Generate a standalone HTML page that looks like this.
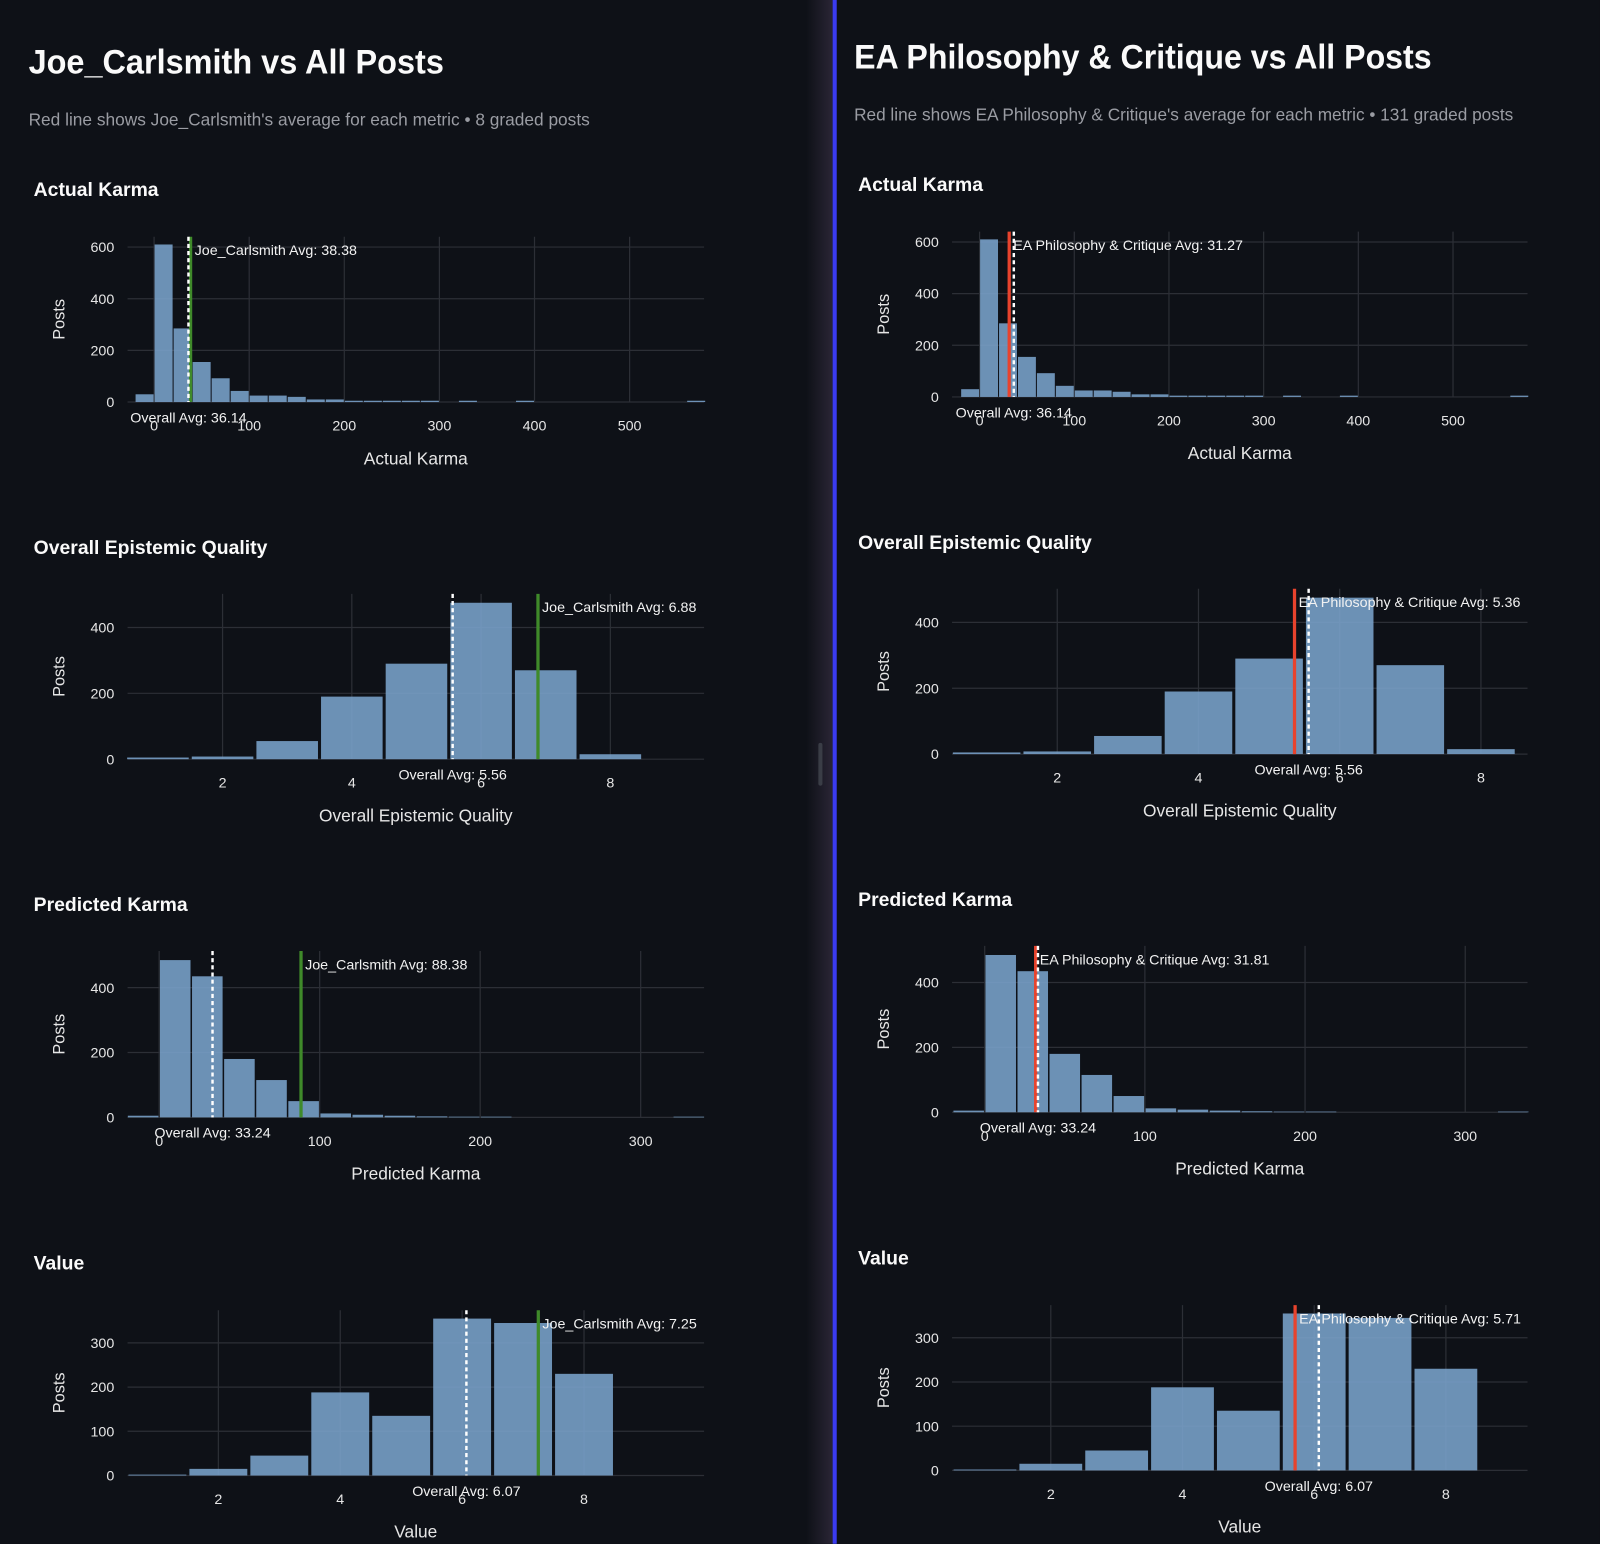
<!DOCTYPE html>
<html><head><meta charset="utf-8">
<style>
html,body{margin:0;padding:0;background:#0e1117;overflow:hidden;}
#wrap{width:1568px;height:1513px;transform:scale(1.0204);transform-origin:0 0;position:relative;}
svg text{font-family:"Liberation Sans",sans-serif;}
</style></head>
<body>
<div id="wrap">
<svg id="root" width="1568" height="1513" viewBox="0 0 1568 1513" xmlns="http://www.w3.org/2000/svg">
  <defs>
    <linearGradient id="div" x1="0" x2="1" y1="0" y2="0">
      <stop offset="0" stop-color="#0e1117"/>
      <stop offset="1" stop-color="#2a2535"/>
    </linearGradient>
  </defs>
  <rect x="0" y="0" width="1568" height="1513" fill="#0e1117"/>
  <rect x="790" y="0" width="26" height="1513" fill="url(#div)"/>
  <rect x="802" y="728" width="4" height="42" rx="2" fill="#3a3d46"/>
  <rect x="816" y="0" width="4" height="1513" fill="#3b3bf0"/>
  <text x="28" y="72" font-size="34" font-weight="bold" fill="#fafafa" textLength="407" lengthAdjust="spacingAndGlyphs">Joe_Carlsmith vs All Posts</text>
  <text x="28" y="123" font-size="17" fill="#9a9ca3" textLength="550" lengthAdjust="spacingAndGlyphs">Red line shows Joe_Carlsmith's average for each metric • 8 graded posts</text>
  <text x="837" y="67" font-size="34" font-weight="bold" fill="#fafafa" textLength="566" lengthAdjust="spacingAndGlyphs">EA Philosophy &amp; Critique vs All Posts</text>
  <text x="837" y="118" font-size="17" fill="#9a9ca3" textLength="646" lengthAdjust="spacingAndGlyphs">Red line shows EA Philosophy &amp; Critique's average for each metric • 131 graded posts</text>
  <g id="charts"></g>
</svg>
</div>
<script>
// ---- data ----
const karmaBinStart = -20;
const karmaBinWidth = 20;
const actualKarmaCounts = [30,610,285,155,92,43,25,25,20,10,10,5,5,5,5,5,0,5,0,0,5,0,0,0,0,0,0,0,0,5];
const predictedKarmaCounts = [5,485,435,180,115,50,12,8,5,3,2,2,0,0,0,0,0,2];
const scoreBinStart = 0.5;
const scoreBinWidth = 1;
const epistemicCounts = [5,8,55,190,290,475,270,15];
const valueCounts = [2,15,45,188,135,355,345,230];
const overallAvgs = [36.14, 5.56, 33.24, 6.07];
const joeAvgs = [38.38, 6.88, 88.38, 7.25];
const eaAvgs = [31.27, 5.36, 31.81, 5.71];
const karmaXTicks = [0,100,200,300,400,500];
const predXTicks = [0,100,200,300];
const scoreXTicks = [2,4,6,8];
const karmaYTicks = [0,200,400,600];
const epiYTicks = [0,200,400];
const predYTicks = [0,200,400];
const valueYTicks = [0,100,200,300];
const metricNames = ["Actual Karma","Overall Epistemic Quality","Predicted Karma","Value"];

const NS = "http://www.w3.org/2000/svg";
const G = document.getElementById('charts');
function el(tag, attrs, parent){const e=document.createElementNS(NS,tag);for(const k in attrs)e.setAttribute(k,attrs[k]);(parent||G).appendChild(e);return e;}

function chart(cfg){
  const g = el('g',{});
  
  
  const sx = v => cfg.x0 + (v - cfg.xmin)/(cfg.xmax - cfg.xmin)*(cfg.x1 - cfg.x0);
  const sy = v => cfg.yb - v/cfg.ymax*(cfg.yb - cfg.yt);
  const h = el('text',{x:cfg.hx,y:cfg.hy,'font-size':19,'font-weight':'bold',fill:'#fafafa'},g);
  h.textContent = cfg.title;
  
  
  cfg.yticks.forEach(t=>{
    const l = el('line',{x1:cfg.x0,x2:cfg.x1,y1:sy(t),y2:sy(t),stroke:'#2c2f36','stroke-width':1.2},g);
    
    
    const tx = el('text',{x:cfg.x0-13,y:sy(t)+5,'font-size':14,fill:'#e6e6e6','text-anchor':'end'},g);
    tx.textContent = t;
    
    
  });
  cfg.xticks.forEach(t=>{
    const l = el('line',{x1:sx(t),x2:sx(t),y1:cfg.yt,y2:cfg.yb,stroke:'#2c2f36','stroke-width':1.2},g);
    
    
    const tx = el('text',{x:sx(t),y:cfg.yb+28,'font-size':14,fill:'#e6e6e6','text-anchor':'middle'},g);
    tx.textContent = t;
    
    
  });
  cfg.counts.forEach((c,i)=>{
    if(c<=0) return;
    const a = cfg.binStart + i*cfg.binWidth, b = a + cfg.binWidth;
    const r = el('rect',{x:sx(a)+cfg.gap/2,y:sy(c),width:Math.max(0,sx(b)-sx(a)-cfg.gap),height:cfg.yb-sy(c),fill:'#7aa3cc','fill-opacity':0.88},g);
    
    
  });
  const ox = sx(cfg.overall), gx = sx(cfg.group);
  const gl = el('line',{x1:gx,x2:gx,y1:cfg.yt,y2:cfg.yb,stroke:cfg.color,'stroke-width':3.2},g);
  
  
  const ol = el('line',{x1:ox,x2:ox,y1:cfg.yt,y2:cfg.yb,stroke:'#ffffff','stroke-width':2.4,'stroke-dasharray':'4 3'},g);
  
  
  const ga = el('text',{x:gx+4,y:cfg.yt+18,'font-size':14,fill:'#f2f2f2'},g);
  ga.textContent = cfg.label + ' Avg: ' + cfg.group.toFixed(2);
  
  
  const oa = el('text',{x:ox,y:cfg.yb+20,'font-size':14,fill:'#f2f2f2','text-anchor':'middle'},g);
  oa.textContent = 'Overall Avg: ' + cfg.overall.toFixed(2);
  
  
  const yt = el('text',{x:0,y:0,'font-size':16,fill:'#e6e6e6','text-anchor':'middle',transform:`translate(${cfg.x0-62},${(cfg.yt+cfg.yb)/2}) rotate(-90)`},g);
  yt.textContent = 'Posts';
  
  
  const xt = el('text',{x:(cfg.x0+cfg.x1)/2,y:cfg.yb+61,'font-size':17,fill:'#e6e6e6','text-anchor':'middle'},g);
  xt.textContent = cfg.title;
  
  
}

const panels = [
  {dx:0, dy:0, x0:125, x1:690, avgs:joeAvgs, color:'#3f8a2a', label:'Joe_Carlsmith', side:'left',
   ranges:[[-27.9,578.3],[0.53,9.45],[-19.7,339.5],[0.51,9.97]]},
  {dx:808, dy:-5, x0:933, x1:1497, avgs:eaAvgs, color:'#e8432d', label:'EA Philosophy & Critique', side:'right',
   ranges:[[-29.1,578.7],[0.51,8.66],[-20.4,338.9],[0.5,9.24]]}
];
const layout = [
  {hy:192, yt:232, yb:394, ymax:640, counts:actualKarmaCounts, bs:karmaBinStart, bw:karmaBinWidth, gap:1, xt:karmaXTicks, yticks:karmaYTicks},
  {hy:543, yt:582, yb:744, ymax:502, counts:epistemicCounts, bs:scoreBinStart, bw:scoreBinWidth, gap:3, xt:scoreXTicks, yticks:epiYTicks},
  {hy:893, yt:932, yb:1095, ymax:513, counts:predictedKarmaCounts, bs:karmaBinStart, bw:karmaBinWidth, gap:1.5, xt:predXTicks, yticks:predYTicks},
  {hy:1244, yt:1284, yb:1446, ymax:374, counts:valueCounts, bs:scoreBinStart, bw:scoreBinWidth, gap:3, xt:scoreXTicks, yticks:valueYTicks}
];
panels.forEach(p=>{
  layout.forEach((L,i)=>{
    chart({
      name: p.side + '-' + metricNames[i].toLowerCase().replace(/ /g,'-') + '-chart',
      title: metricNames[i], hx: 33 + p.dx, hy: L.hy + p.dy,
      x0: p.x0, x1: p.x1, yt: L.yt + p.dy, yb: L.yb + p.dy, ymax: L.ymax,
      xmin: p.ranges[i][0], xmax: p.ranges[i][1],
      counts: L.counts, binStart: L.bs, binWidth: L.bw, gap: L.gap,
      xticks: L.xt, yticks: L.yticks,
      overall: overallAvgs[i], group: p.avgs[i], color: p.color, label: p.label
    });
  });
});
</script>
</body></html>
